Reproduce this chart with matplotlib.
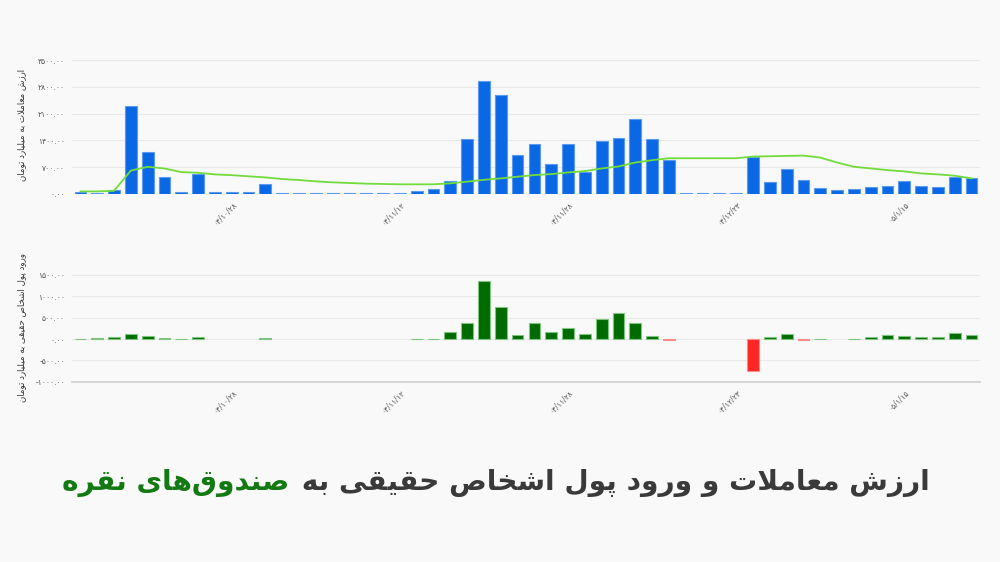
import numpy as np
import matplotlib
matplotlib.use("Agg")
import matplotlib.pyplot as plt

# ---------------- data ----------------
trade_value = [45, 30, 104, 2300, 1097, 441, 60, 527, 45, 40,
               40, 260, 12, 12, 12, 12, 12, 12, 12, 12,
               70, 130, 337, 1430, 2950, 2590, 1028, 1313, 778, 1296,
               570, 1374, 1452, 1962, 1435, 890, 12, 12, 12, 12,
               959, 302, 640, 363, 147, 112, 121, 190, 199, 328,
               216, 173, 449, 415]

trade_avg = [65, 65, 80, 610, 709, 665, 570, 553, 510, 490,
             460, 432, 389, 363, 328, 302, 285, 268, 259, 251,
             251, 251, 276, 320, 368, 406, 449, 493, 519, 562,
             596, 666, 717, 821, 882, 933, 933, 933, 933, 933,
             977, 985, 994, 1002, 950, 821, 709, 666, 622, 588,
             536, 510, 475, 406]

money_flow = [10, 20, 40, 117, 70, 30, 5, 40, 0, 0,
              0, 20, 0, 0, 0, 0, 0, 0, 0, 0,
              5, 5, 163, 365, 1368, 746, 93, 373, 171, 256,
              124, 466, 614, 373, 70, -31, 0, 0, 0, 0,
              -746, 55, 126, -15, 8, 0, 5, 55, 86, 70,
              55, 40, 133, 94]

tick_pos = [9, 19, 29, 39, 49]
tick_dates = ["04/10/28", "04/11/12", "04/11/28", "04/12/23", "05/1/15"]
top_yticks = [0, 700, 1400, 2100, 2800, 3500]
bottom_yticks = [-1000, -500, 0, 500, 1000, 1500]

title_dark = "ارزش معاملات و ورود پول اشخاص حقیقی به "
title_green = "صندوق\u200cهای نقره"
top_ylabel = "ارزش معاملات به میلیارد تومان"
bottom_ylabel = "ورود پول اشخاص حقیقی به میلیارد تومان"

# ---------------- small persian shaper ----------------
# (isolated, final, initial, medial)
FORMS = {
    'ا': ('\uFE8D', '\uFE8E', None, None),
    'د': ('\uFEA9', '\uFEAA', None, None),
    'ر': ('\uFEAD', '\uFEAE', None, None),
    'ز': ('\uFEAF', '\uFEB0', None, None),
    'و': ('\uFEED', '\uFEEE', None, None),
    'ب': ('\uFE8F', '\uFE90', '\uFE91', '\uFE92'),
    'ت': ('\uFE95', '\uFE96', '\uFE97', '\uFE98'),
    'ح': ('\uFEA1', '\uFEA2', '\uFEA3', '\uFEA4'),
    'خ': ('\uFEA5', '\uFEA6', '\uFEA7', '\uFEA8'),
    'ش': ('\uFEB5', '\uFEB6', '\uFEB7', '\uFEB8'),
    'ص': ('\uFEB9', '\uFEBA', '\uFEBB', '\uFEBC'),
    'ع': ('\uFEC9', '\uFECA', '\uFECB', '\uFECC'),
    'ق': ('\uFED5', '\uFED6', '\uFED7', '\uFED8'),
    'ل': ('\uFEDD', '\uFEDE', '\uFEDF', '\uFEE0'),
    'م': ('\uFEE1', '\uFEE2', '\uFEE3', '\uFEE4'),
    'ن': ('\uFEE5', '\uFEE6', '\uFEE7', '\uFEE8'),
    'ه': ('\uFEE9', '\uFEEA', '\uFEEB', '\uFEEC'),
    'پ': ('\uFB56', '\uFB57', '\uFB58', '\uFB59'),
    'ی': ('\uFBFC', '\uFBFD', '\uFBFE', '\uFBFF'),
}


def dual(c):
    return c in FORMS and FORMS[c][2] is not None


def shape_fa(text):
    '''turn logical persian text into joined glyphs in visual order'''
    out = []
    i = 0
    n = len(text)
    while i < n:
        c = text[i]
        prev = text[i - 1] if i > 0 else ''
        nxt = text[i + 1] if i + 1 < n else ''
        if c not in FORMS:
            if c != '\u200c':
                out.append(c)
            i += 1
            continue
        jp = dual(prev)
        if c == 'ل' and nxt == 'ا':
            out.append('\uFEFC' if jp else '\uFEFB')
            i += 2
            continue
        jn = dual(c) and nxt in FORMS
        iso, fin, ini, med = FORMS[c]
        if jp and jn:
            out.append(med)
        elif jp:
            out.append(fin)
        elif jn:
            out.append(ini)
        else:
            out.append(iso)
        i += 1
    return ''.join(out[::-1])


FA_DIGITS = str.maketrans('0123456789', '۰۱۲۳۴۵۶۷۸۹')


def fa_num(s):
    return s.translate(FA_DIGITS)


# ---------------- figure ----------------
plt.rcParams['font.family'] = ['DejaVu Sans']
bg = '#f9f9f9'
fig = plt.figure(figsize=(10, 5.62), dpi=100, facecolor=bg)

x = np.arange(len(trade_value))

ax1 = fig.add_axes([0.072, 0.655, 0.908, 0.238], facecolor=bg)
ax1.bar(x, trade_value, width=0.7, color='#0b68e4', edgecolor='#5b9bef', linewidth=0.8, zorder=2)
ax1.plot(x, trade_avg, color='#72dc3a', linewidth=1.3, zorder=3)
ax1.set_ylim(0, 3500)
ax1.set_yticks(top_yticks)
ax1.set_yticklabels([fa_num('%.2f' % v) for v in top_yticks])

ax2 = fig.add_axes([0.072, 0.3208, 0.908, 0.1899], facecolor=bg)
flow_colors = ['#006b00' if v >= 0 else '#ff2626' for v in money_flow]
flow_edges = ['#7fc47f' if v >= 0 else '#ff8a8a' for v in money_flow]
flow_lw = [0.8 if v != 0 else 0 for v in money_flow]
ax2.bar(x, money_flow, width=0.7, color=flow_colors, edgecolor=flow_edges, linewidth=flow_lw, zorder=2)
ax2.set_ylim(-1000, 1500)
ax2.set_yticks(bottom_yticks)
ax2.set_yticklabels([fa_num('%.2f' % v) for v in bottom_yticks])

for ax in (ax1, ax2):
    ax.set_xlim(-0.5, 53.5)
    ax.set_xticks(tick_pos)
    ax.set_xticklabels([fa_num(t) for t in tick_dates], rotation=45, ha='right',
                       rotation_mode='anchor')
    ax.tick_params(axis='both', length=0, labelsize=5.5, colors='#555555')
    ax.tick_params(axis='y', pad=5)
    ax.tick_params(axis='x', pad=4)
    ax.grid(axis='y', color='#e9e9e9', linewidth=0.8, zorder=0)
    for s in ax.spines.values():
        s.set_visible(False)

ax2.spines['bottom'].set_visible(True)
ax2.spines['bottom'].set_color('#cfcfcf')
ax2.spines['bottom'].set_linewidth(1.2)

fig.text(0.022, 0.777, shape_fa(top_ylabel), rotation=90, ha='center', va='center',
         fontsize=6.2, color='#333333')
fig.text(0.022, 0.418, shape_fa(bottom_ylabel), rotation=90, ha='center', va='center',
         fontsize=6.2, color='#333333')

# title: dark part on the right, green part continues to its left
t1 = fig.text(0.93, 0.14, shape_fa(title_dark), ha='right', va='center',
              fontsize=20.2, fontweight='bold', color='#3a3a3a')
fig.canvas.draw()
bb = t1.get_window_extent(renderer=fig.canvas.get_renderer())
x_left = bb.x0 / fig.bbox.width
fig.text(x_left - 0.003, 0.14, shape_fa(title_green), ha='right', va='center',
         fontsize=20.2, fontweight='bold', color='#137a13')

plt.savefig('out.png', dpi=100, facecolor=bg)
